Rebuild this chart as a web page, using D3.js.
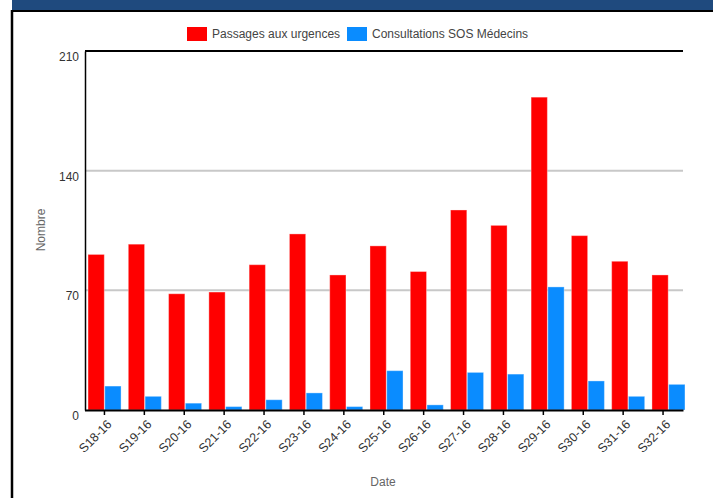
<!DOCTYPE html>
<head>
<meta charset="utf-8">
<style>
  body { margin: 0; background: #fff; }
  svg { display: block; font-family: "Liberation Sans", Arial, Helvetica, sans-serif; }
  .tick text { fill: #333; font-size: 12px; }
  .axis-title { fill: #666; font-size: 12px; }
  .legend text { fill: #444; font-size: 12px; }
</style>
</head>
<body>
<script src="https://d3js.org/d3.v7.min.js"></script>
<script>

var weeks = ["S18-16", "S19-16", "S20-16", "S21-16", "S22-16", "S23-16", "S24-16", "S25-16",
             "S26-16", "S27-16", "S28-16", "S29-16", "S30-16", "S31-16", "S32-16"];
var urgences = [91, 97, 68, 69, 85, 103, 79, 96, 81, 117, 108, 183, 102, 87, 79];
var sos = [14, 8, 4, 2, 6, 10, 2, 23, 3, 22, 21, 72, 17, 8, 15];
var seriesNames = ["Passages aux urgences", "Consultations SOS Médecins"];
var seriesColors = ["#ff0000", "#0a8cff"];
var yTicks = [0, 70, 140, 210];

var width = 713, height = 498;
var margin = {top: 51, left: 85, right: 30, bottom: 88};

var svg = d3.select("body").append("svg")
    .attr("width", width)
    .attr("height", height);

// header band + frame remnants
svg.append("rect").attr("x", 12).attr("y", 0).attr("width", width - 12).attr("height", 10).attr("fill", "#1f4a7e");
svg.append("line").attr("x1", 11).attr("x2", width).attr("y1", 11).attr("y2", 11).attr("stroke", "#000").attr("stroke-width", 2);
svg.append("line").attr("x1", 12).attr("x2", 12).attr("y1", 10).attr("y2", height).attr("stroke", "#000").attr("stroke-width", 2.5);

var plotRight = 683, plotBottom = 410;

var y = d3.scaleLinear().domain([0, 210]).range([plotBottom, margin.top]);

// tick scale and bar scale are slightly different in the original
var xAxisScale = d3.scaleBand().domain(weeks).range([84.5, plotRight]).padding(0);
var x0 = d3.scaleBand().domain(weeks).range([84, 689]).paddingInner(0.18).paddingOuter(0.1);
var x1 = d3.scaleBand().domain([0, 1]).range([0, x0.bandwidth()]).paddingInner(0.03);

// gridlines
svg.append("g").selectAll("line")
  .data(yTicks.filter(function(d) { return d > 0; }))
  .enter().append("line")
    .attr("x1", margin.left).attr("x2", plotRight)
    .attr("y1", function(d) { return y(d); })
    .attr("y2", function(d) { return y(d); })
    .attr("stroke", function(d) { return d === 210 ? "#000" : "#c8c8c8"; })
    .attr("stroke-width", 2);

// bars
var rows = weeks.map(function(w, i) { return {week: w, values: [urgences[i], sos[i]]}; });
svg.append("g").selectAll("g")
  .data(rows)
  .enter().append("g")
    .attr("transform", function(d) { return "translate(" + x0(d.week) + ",0)"; })
  .selectAll("rect")
  .data(function(d) { return d.values; })
  .enter().append("rect")
    .attr("x", function(d, i) { return x1(i); })
    .attr("y", function(d) { return y(d); })
    .attr("width", x1.bandwidth())
    .attr("height", function(d) { return plotBottom - y(d); })
    .attr("fill", function(d, i) { return seriesColors[i]; })
    .attr("stroke", "rgba(255,255,255,0.35)")
    .attr("stroke-width", 1);

// y axis
var yAxis = svg.append("g")
    .attr("transform", "translate(" + margin.left + ",0)")
    .call(d3.axisLeft(y).tickValues(yTicks).tickSize(0).tickPadding(6));
yAxis.select(".domain").attr("stroke", "#000").attr("stroke-width", 1.5);
yAxis.selectAll(".tick text").attr("dy", "0.8em");

// x axis
var xAxis = svg.append("g")
    .attr("transform", "translate(0," + plotBottom + ")")
    .call(d3.axisBottom(xAxisScale).tickSizeOuter(0).tickSizeInner(5));
xAxis.select(".domain").attr("stroke", "#000").attr("stroke-width", 2);
xAxis.selectAll(".tick line").attr("stroke", "#000").attr("stroke-width", 1.5);
xAxis.selectAll(".tick text")
    .style("font-size", "12.5px")
    .attr("text-anchor", "end")
    .attr("dy", "0.35em")
    .attr("transform", "translate(5,12) rotate(-45)")
    .attr("y", 0).attr("x", 0);

// axis titles
svg.append("text").attr("class", "axis-title")
    .attr("text-anchor", "middle")
    .attr("transform", "translate(45,230) rotate(-90)")
    .text("Nombre");
svg.append("text").attr("class", "axis-title")
    .attr("text-anchor", "middle")
    .attr("x", 383).attr("y", 486)
    .text("Date");

// legend
var legend = svg.append("g").attr("class", "legend");
var legendX = [187, 347];
seriesNames.forEach(function(name, i) {
  legend.append("rect")
      .attr("x", legendX[i]).attr("y", 27)
      .attr("width", 20).attr("height", 14)
      .attr("fill", seriesColors[i]);
  legend.append("text")
      .attr("x", legendX[i] + 25).attr("y", 34)
      .attr("dy", "0.35em")
      .text(name);
});

</script>
</body>
